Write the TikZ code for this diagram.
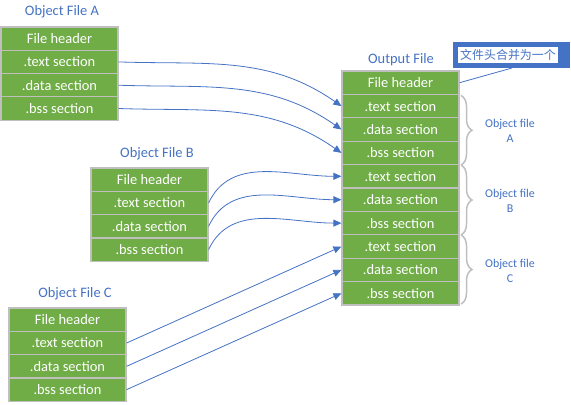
\documentclass[tikz,border=0pt]{standalone}
\usepackage{fontspec}
\setmainfont{Carlito}
\newfontfamily\cjk{Noto Sans CJK SC}
\usetikzlibrary{arrows.meta,decorations.pathreplacing}
\definecolor{secgreen}{HTML}{70AD47}
\definecolor{secgrey}{HTML}{BFBFBF}
\definecolor{lblue}{HTML}{4472C4}
\begin{document}
\begin{tikzpicture}[x=1bp,y=-1bp,
  sec/.style={draw=secgrey,line width=1.2bp,fill=secgreen,text=white,minimum width=117bp,minimum height=23.3bp,inner sep=0pt,font=\fontsize{14.5}{16}\selectfont},
  ttl/.style={text=lblue,font=\fontsize{14.5}{16}\selectfont},
  lbl/.style={text=lblue,align=center,font=\fontsize{12}{15}\selectfont},
  conn/.style={draw=lblue,line width=0.8bp,-{Triangle[width=7bp,length=8bp]}},
  brc/.style={draw=secgrey,line width=1.5bp,decorate,decoration={brace,amplitude=11bp,aspect=0.5}}]
\useasboundingbox (0,0) rectangle (571,404);
% Object File A
\node[ttl] (tA) at (62,12) {Object File A};
\node[sec] (A0) at (59.5,38.6) {File header};
\node[sec] (A1) at (59.5,61.9) {.text section};
\node[sec] (A2) at (59.5,85.2) {.data section};
\node[sec] (A3) at (59.5,108.5) {.bss section};
% Object File B
\node[ttl] (tB) at (157,154) {Object File B};
\node[sec] (B0) at (149.5,179.7) {File header};
\node[sec] (B1) at (149.5,203) {.text section};
\node[sec] (B2) at (149.5,226.3) {.data section};
\node[sec] (B3) at (149.5,249.6) {.bss section};
% Object File C
\node[ttl] (tC) at (75,294) {Object File C};
\node[sec] (C0) at (67.5,319.7) {File header};
\node[sec] (C1) at (67.5,343) {.text section};
\node[sec] (C2) at (67.5,366.3) {.data section};
\node[sec] (C3) at (67.5,389.6) {.bss section};
% Output File
\node[ttl] (tO) at (401,60) {Output File};
\node[sec] (O0) at (400.5,82.7) {File header};
\node[sec] (O1) at (400.5,106.1) {.text section};
\node[sec] (O2) at (400.5,129.5) {.data section};
\node[sec] (O3) at (400.5,152.9) {.bss section};
\node[sec] (O4) at (400.5,176.3) {.text section};
\node[sec] (O5) at (400.5,199.7) {.data section};
\node[sec] (O6) at (400.5,223.1) {.bss section};
\node[sec] (O7) at (400.5,246.5) {.text section};
\node[sec] (O8) at (400.5,269.9) {.data section};
\node[sec] (O9) at (400.5,293.3) {.bss section};
% braces
\coordinate (b0) at (461,95.5);
\coordinate (b1) at (461,165);
\coordinate (b2) at (461,235);
\coordinate (b3) at (461,304);
\draw[brc] (b0) -- (b1);
\draw[brc] (b1) -- (b2);
\draw[brc] (b2) -- (b3);
\node[lbl] (lA) at (510,131) {Object file\\A};
\node[lbl] (lB) at (510,201) {Object file\\B};
\node[lbl] (lC) at (510,271) {Object file\\C};
% callout
\node[fill=lblue,minimum width=117bp,minimum height=26bp,inner sep=0pt] (callbox) at (511.5,55) {};
\node[fill=white,minimum width=100bp,minimum height=16bp,inner sep=0pt,text=lblue,font=\cjk\fontsize{12}{14}\selectfont] (call) at (508,55) {文件头合并为一个};
\coordinate (callpt) at (512,68);
\draw[lblue,line width=0.8bp] (O0.east) -- (callpt);
% arrows A
\draw[conn] (A1.east) to[out=-2,in=145] (O1.west);
\draw[conn] (A2.east) to[out=-2,in=145] (O2.west);
\draw[conn] (A3.east) to[out=-2,in=145] (O3.west);
% arrows B
\draw[conn] (B1.east) to[out=65,in=180] (O4.west);
\draw[conn] (B2.east) to[out=65,in=180] (O5.west);
\draw[conn] (B3.east) to[out=65,in=180] (O6.west);
% arrows C
\draw[conn] (C1.east) -- (O7.west);
\draw[conn] (C2.east) -- (O8.west);
\draw[conn] (C3.east) -- (O9.west);
\end{tikzpicture}
\end{document}
